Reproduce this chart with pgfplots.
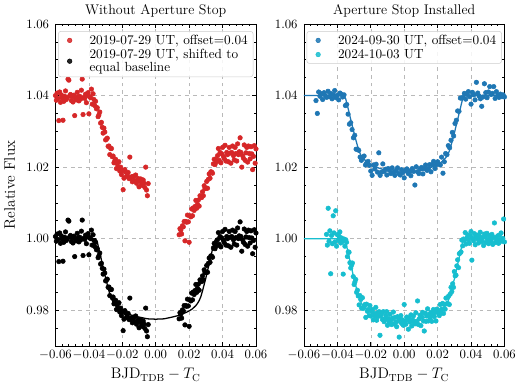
\RequirePackage{fix-cm}
\documentclass[border=0pt]{standalone}
\usepackage{fontspec}
\usepackage{pgfplots}
\usepackage{pgfplotstable}
\pgfplotsset{compat=1.18}

\definecolor{cred}{HTML}{D62728}
\definecolor{cblue}{HTML}{1F77B4}
\definecolor{ccyan}{HTML}{17BECF}

% 2019-07-29: x, offset flux (red), shifted flux (black)
\pgfplotstableread{
x r k
-0.0600 1.0400 1.0006
-0.0595 1.0387 0.9993
-0.0590 1.0407 1.0013
-0.0585 1.0392 0.9998
-0.0580 1.0330 0.9936
-0.0575 1.0410 1.0016
-0.0570 1.0381 0.9987
-0.0565 1.0402 1.0008
-0.0560 1.0393 0.9999
-0.0555 1.0331 0.9937
-0.0550 1.0384 0.9990
-0.0545 1.0398 1.0004
-0.0540 1.0413 1.0019
-0.0535 1.0389 0.9995
-0.0530 1.0394 1.0000
-0.0525 1.0446 1.0052
-0.0520 1.0443 1.0049
-0.0515 1.0399 1.0005
-0.0510 1.0403 1.0009
-0.0505 1.0386 0.9992
-0.0500 1.0397 1.0003
-0.0495 1.0382 0.9988
-0.0490 1.0401 1.0007
-0.0485 1.0344 0.9950
-0.0480 1.0391 0.9997
-0.0475 1.0388 0.9994
-0.0470 1.0409 1.0015
-0.0465 1.0396 1.0002
-0.0460 1.0385 0.9991
-0.0455 1.0398 1.0004
-0.0450 1.0390 0.9996
-0.0445 1.0415 1.0021
-0.0440 1.0446 1.0052
-0.0435 1.0347 0.9953
-0.0430 1.0395 1.0001
-0.0425 1.0392 0.9998
-0.0420 1.0404 1.0010
-0.0415 1.0380 0.9986
-0.0410 1.0400 1.0006
-0.0405 1.0408 1.0014
-0.0400 1.0349 0.9955
-0.0395 1.0397 1.0003
-0.0390 1.0394 1.0000
-0.0385 1.0418 1.0024
-0.0380 1.0376 0.9982
-0.0375 1.0405 1.0011
-0.0370 1.0389 0.9995
-0.0365 1.0372 0.9978
-0.0360 1.0384 0.9990
-0.0355 1.0363 0.9969
-0.0350 1.0366 0.9972
-0.0345 1.0341 0.9947
-0.0340 1.0346 0.9952
-0.0335 1.0354 0.9960
-0.0330 1.0323 0.9929
-0.0325 1.0325 0.9931
-0.0320 1.0311 0.9917
-0.0315 1.0295 0.9901
-0.0310 1.0309 0.9915
-0.0305 1.0298 0.9904
-0.0300 1.0276 0.9882
-0.0295 1.0278 0.9884
-0.0290 1.0281 0.9887
-0.0285 1.0258 0.9864
-0.0280 1.0259 0.9865
-0.0275 1.0235 0.9841
-0.0270 1.0252 0.9858
-0.0265 1.0252 0.9858
-0.0260 1.0229 0.9835
-0.0255 1.0231 0.9837
-0.0250 1.0212 0.9818
-0.0245 1.0217 0.9823
-0.0240 1.0222 0.9828
-0.0235 1.0196 0.9802
-0.0230 1.0209 0.9815
-0.0225 1.0199 0.9805
-0.0220 1.0215 0.9821
-0.0215 1.0189 0.9795
-0.0210 1.0200 0.9806
-0.0205 1.0179 0.9785
-0.0200 1.0190 0.9796
-0.0195 1.0137 0.9743
-0.0190 1.0169 0.9775
-0.0185 1.0193 0.9799
-0.0180 1.0186 0.9792
-0.0175 1.0174 0.9780
-0.0170 1.0176 0.9782
-0.0165 1.0185 0.9791
-0.0160 1.0168 0.9774
-0.0155 1.0228 0.9834
-0.0150 1.0169 0.9775
-0.0145 1.0173 0.9779
-0.0140 1.0159 0.9765
-0.0135 1.0173 0.9779
-0.0130 1.0175 0.9781
-0.0125 1.0162 0.9768
-0.0120 1.0178 0.9784
-0.0115 1.0155 0.9761
-0.0110 1.0163 0.9769
-0.0105 1.0168 0.9774
-0.0100 1.0145 0.9751
-0.0095 1.0162 0.9768
-0.0090 1.0167 0.9773
-0.0085 1.0154 0.9760
-0.0080 1.0149 0.9755
-0.0075 1.0164 0.9770
-0.0070 1.0155 0.9761
-0.0065 1.0143 0.9749
-0.0060 1.0200 0.9806
-0.0055 1.0136 0.9742
-0.0050 1.0120 0.9726
-0.0045 1.0154 0.9760
0.0140 1.0011 0.9776
0.0145 1.0028 0.9793
0.0150 1.0024 0.9789
0.0155 1.0013 0.9778
0.0160 1.0036 0.9801
0.0165 1.0033 0.9798
0.0170 1.0048 0.9813
0.0175 0.9994 0.9759
0.0180 1.0048 0.9813
0.0185 1.0046 0.9811
0.0190 1.0066 0.9831
0.0195 1.0047 0.9812
0.0200 0.9990 0.9755
0.0205 1.0064 0.9829
0.0210 1.0061 0.9826
0.0215 1.0083 0.9848
0.0220 1.0064 0.9829
0.0225 1.0086 0.9851
0.0230 1.0079 0.9844
0.0235 1.0090 0.9855
0.0240 1.0107 0.9872
0.0245 1.0085 0.9850
0.0250 1.0096 0.9861
0.0255 1.0108 0.9873
0.0260 1.0091 0.9856
0.0265 1.0120 0.9885
0.0270 1.0117 0.9882
0.0275 1.0115 0.9880
0.0280 1.0131 0.9896
0.0285 1.0120 0.9885
0.0290 1.0148 0.9913
0.0295 1.0140 0.9905
0.0300 1.0141 0.9906
0.0305 1.0160 0.9925
0.0310 1.0141 0.9906
0.0315 1.0166 0.9931
0.0320 1.0181 0.9946
0.0325 1.0169 0.9934
0.0330 1.0187 0.9952
0.0335 1.0186 0.9951
0.0340 1.0183 0.9948
0.0345 1.0209 0.9974
0.0350 1.0222 0.9987
0.0355 1.0207 0.9972
0.0360 1.0221 0.9986
0.0365 1.0215 0.9980
0.0370 1.0232 0.9997
0.0375 1.0252 1.0017
0.0380 1.0219 0.9984
0.0385 1.0241 1.0006
0.0390 1.0212 0.9977
0.0395 1.0237 1.0002
0.0400 1.0255 1.0020
0.0405 1.0230 0.9995
0.0410 1.0224 0.9989
0.0415 1.0261 1.0026
0.0420 1.0217 0.9982
0.0425 1.0241 1.0006
0.0430 1.0235 1.0000
0.0435 1.0215 0.9980
0.0440 1.0255 1.0020
0.0445 1.0239 1.0004
0.0450 1.0211 0.9976
0.0455 1.0241 1.0006
0.0460 1.0259 1.0024
0.0465 1.0232 0.9997
0.0470 1.0220 0.9985
0.0475 1.0255 1.0020
0.0480 1.0238 1.0003
0.0485 1.0217 0.9982
0.0490 1.0265 1.0030
0.0495 1.0235 1.0000
0.0500 1.0243 1.0008
0.0505 1.0282 1.0047
0.0510 1.0241 1.0006
0.0515 1.0200 0.9965
0.0520 1.0232 0.9997
0.0525 1.0225 0.9990
0.0530 1.0262 1.0027
0.0535 1.0219 0.9984
0.0540 1.0240 1.0005
0.0545 1.0255 1.0020
0.0550 1.0214 0.9979
0.0555 1.0259 1.0024
0.0560 1.0238 1.0003
0.0565 1.0223 0.9988
0.0570 1.0257 1.0022
0.0575 1.0237 1.0002
0.0580 1.0193 0.9958
0.0585 1.0230 0.9995
0.0590 1.0260 1.0025
0.0595 1.0211 0.9976
0.0600 1.0251 1.0016
}\olddata

% 2024-09-30 (offset 0.04)
\pgfplotstableread{
x f
-0.0528 1.0386
-0.0520 1.0350
-0.0512 1.0410
-0.0504 1.0398
-0.0496 1.0405
-0.0488 1.0389
-0.0480 1.0408
-0.0472 1.0400
-0.0464 1.0395
-0.0456 1.0412
-0.0448 1.0397
-0.0440 1.0406
-0.0432 1.0391
-0.0424 1.0402
-0.0416 1.0414
-0.0408 1.0394
-0.0400 1.0401
-0.0392 1.0388
-0.0384 1.0407
-0.0376 1.0404
-0.0368 1.0396
-0.0360 1.0402
-0.0352 1.0372
-0.0344 1.0375
-0.0336 1.0348
-0.0328 1.0320
-0.0320 1.0324
-0.0312 1.0305
-0.0304 1.0282
-0.0296 1.0289
-0.0288 1.0250
-0.0280 1.0250
-0.0272 1.0247
-0.0264 1.0228
-0.0256 1.0219
-0.0248 1.0227
-0.0240 1.0231
-0.0232 1.0206
-0.0224 1.0212
-0.0216 1.0216
-0.0208 1.0205
-0.0200 1.0189
-0.0192 1.0177
-0.0184 1.0206
-0.0176 1.0195
-0.0168 1.0208
-0.0160 1.0186
-0.0152 1.0240
-0.0144 1.0177
-0.0136 1.0186
-0.0128 1.0209
-0.0120 1.0188
-0.0112 1.0194
-0.0104 1.0178
-0.0096 1.0196
-0.0088 1.0191
-0.0080 1.0182
-0.0072 1.0198
-0.0064 1.0186
-0.0056 1.0177
-0.0048 1.0191
-0.0040 1.0198
-0.0032 1.0182
-0.0024 1.0178
-0.0016 1.0193
-0.0008 1.0185
0.0000 1.0170
0.0008 1.0191
0.0016 1.0195
0.0024 1.0182
0.0032 1.0189
0.0040 1.0176
0.0048 1.0196
0.0056 1.0188
0.0064 1.0150
0.0072 1.0201
0.0080 1.0187
0.0088 1.0182
0.0096 1.0195
0.0104 1.0199
0.0112 1.0181
0.0120 1.0196
0.0128 1.0206
0.0136 1.0191
0.0144 1.0196
0.0152 1.0207
0.0160 1.0187
0.0168 1.0207
0.0176 1.0216
0.0184 1.0196
0.0192 1.0207
0.0200 1.0215
0.0208 1.0209
0.0216 1.0206
0.0224 1.0228
0.0232 1.0183
0.0240 1.0215
0.0248 1.0238
0.0256 1.0235
0.0264 1.0260
0.0272 1.0254
0.0280 1.0275
0.0288 1.0297
0.0296 1.0287
0.0304 1.0322
0.0312 1.0331
0.0320 1.0357
0.0328 1.0356
0.0336 1.0393
0.0344 1.0393
0.0352 1.0395
0.0360 1.0406
0.0368 1.0390
0.0376 1.0403
0.0384 1.0411
0.0392 1.0397
0.0400 1.0376
0.0408 1.0409
0.0416 1.0402
0.0424 1.0388
0.0432 1.0437
0.0440 1.0407
0.0448 1.0399
0.0456 1.0391
0.0464 1.0370
0.0472 1.0396
0.0480 1.0433
0.0488 1.0408
0.0496 1.0394
0.0504 1.0410
0.0512 1.0425
0.0520 1.0403
0.0528 1.0406
0.0536 1.0425
0.0544 1.0392
0.0552 1.0411
0.0560 1.0401
0.0568 1.0395
0.0576 1.0404
0.0584 1.0397
0.0592 1.0402
0.0600 1.0396
}\bluedata

% 2024-10-03
\pgfplotstableread{
x f
-0.0465 1.0012
-0.0460 0.9982
-0.0455 1.0085
-0.0450 0.9993
-0.0445 1.0022
-0.0440 0.9902
-0.0435 1.0009
-0.0430 0.9986
-0.0425 1.0064
-0.0420 1.0016
-0.0415 0.9991
-0.0410 1.0078
-0.0405 0.9979
-0.0400 1.0011
-0.0395 0.9995
-0.0390 1.0007
-0.0385 1.0019
-0.0380 0.9988
-0.0375 1.0002
-0.0370 0.9992
-0.0365 0.9901
-0.0360 0.9999
-0.0355 0.9979
-0.0350 0.9997
-0.0345 0.9990
-0.0340 0.9950
-0.0335 0.9963
-0.0330 0.9962
-0.0325 0.9933
-0.0320 0.9918
-0.0315 0.9926
-0.0310 0.9932
-0.0305 0.9894
-0.0300 0.9872
-0.0295 0.9879
-0.0290 0.9886
-0.0285 0.9850
-0.0280 0.9856
-0.0275 0.9840
-0.0270 0.9815
-0.0265 0.9841
-0.0260 0.9830
-0.0255 0.9806
-0.0250 0.9835
-0.0245 0.9805
-0.0240 0.9809
-0.0235 0.9816
-0.0230 0.9780
-0.0225 0.9817
-0.0220 0.9797
-0.0215 0.9802
-0.0210 0.9785
-0.0205 0.9813
-0.0200 0.9784
-0.0195 0.9798
-0.0190 0.9802
-0.0185 0.9773
-0.0180 0.9791
-0.0175 0.9783
-0.0170 0.9808
-0.0165 0.9772
-0.0160 0.9793
-0.0155 0.9783
-0.0150 0.9796
-0.0145 0.9730
-0.0140 0.9785
-0.0135 0.9791
-0.0130 0.9774
-0.0125 0.9796
-0.0120 0.9768
-0.0115 0.9774
-0.0110 0.9785
-0.0105 0.9796
-0.0100 0.9758
-0.0095 0.9777
-0.0090 0.9767
-0.0085 0.9789
-0.0080 0.9772
-0.0075 0.9760
-0.0070 0.9778
-0.0065 0.9795
-0.0060 0.9762
-0.0055 0.9780
-0.0050 0.9766
-0.0045 0.9754
-0.0040 0.9782
-0.0035 0.9770
-0.0030 0.9725
-0.0025 0.9776
-0.0020 0.9785
-0.0015 0.9763
-0.0010 0.9773
-0.0005 0.9758
0.0000 0.9816
0.0005 0.9769
0.0010 0.9761
0.0015 0.9781
0.0020 0.9774
0.0025 0.9747
0.0030 0.9778
0.0035 0.9767
0.0040 0.9787
0.0045 0.9756
0.0050 0.9773
0.0055 0.9784
0.0060 0.9766
0.0065 0.9762
0.0070 0.9793
0.0075 0.9769
0.0080 0.9826
0.0085 0.9760
0.0090 0.9776
0.0095 0.9786
0.0100 0.9757
0.0105 0.9782
0.0110 0.9794
0.0115 0.9770
0.0120 0.9742
0.0125 0.9792
0.0130 0.9769
0.0135 0.9784
0.0140 0.9804
0.0145 0.9770
0.0150 0.9789
0.0155 0.9779
0.0160 0.9794
0.0165 0.9769
0.0170 0.9787
0.0175 0.9802
0.0180 0.9782
0.0185 0.9794
0.0190 0.9770
0.0195 0.9803
0.0200 0.9801
0.0205 0.9792
0.0210 0.9785
0.0215 0.9816
0.0220 0.9794
0.0225 0.9803
0.0230 0.9819
0.0235 0.9791
0.0240 0.9816
0.0245 0.9803
0.0250 0.9834
0.0255 0.9818
0.0260 0.9819
0.0265 0.9839
0.0270 0.9816
0.0275 0.9845
0.0280 0.9864
0.0285 0.9852
0.0290 0.9874
0.0295 0.9864
0.0300 0.9908
0.0305 0.9896
0.0310 0.9898
0.0315 0.9924
0.0320 0.9941
0.0325 0.9919
0.0330 0.9958
0.0335 0.9960
0.0340 0.9963
0.0345 0.9996
0.0350 0.9980
0.0355 0.9999
0.0360 0.9995
0.0365 1.0017
0.0370 0.9985
0.0375 1.0002
0.0380 1.0011
0.0385 0.9997
0.0390 0.9987
0.0395 1.0008
0.0400 1.0020
0.0405 0.9940
0.0410 1.0001
0.0415 0.9994
0.0420 1.0014
0.0425 0.9983
0.0430 1.0005
0.0435 1.0010
0.0440 0.9999
0.0445 0.9988
0.0450 1.0007
0.0455 1.0018
0.0460 0.9996
0.0465 0.9992
0.0470 1.0003
0.0475 0.9981
0.0480 1.0013
0.0485 1.0006
0.0490 0.9990
0.0495 1.0015
0.0500 0.9998
0.0505 0.9986
0.0510 1.0009
0.0515 1.0000
0.0520 0.9994
0.0525 1.0012
0.0530 0.9984
0.0535 1.0004
0.0540 1.0044
0.0545 0.9989
0.0550 1.0002
0.0555 0.9995
0.0560 1.0008
0.0565 0.9987
0.0570 1.0010
0.0575 0.9997
0.0580 1.0016
0.0585 0.9993
0.0590 1.0001
0.0595 1.0055
0.0600 0.9991
}\cyandata

% transit models: black (2019), blue (2024-09-30, offset), cyan (2024-10-03)
\pgfplotstableread{
x k b c
-0.060 1.0000 1.0400 1.0000
-0.036 1.0000 1.0400 1.0000
-0.035 0.9991 1.0391 0.9991
-0.034 0.9971 1.0372 0.9970
-0.033 0.9951 1.0353 0.9949
-0.032 0.9930 1.0333 0.9929
-0.031 0.9910 1.0314 0.9908
-0.030 0.9890 1.0295 0.9887
-0.029 0.9872 1.0277 0.9869
-0.028 0.9854 1.0260 0.9851
-0.027 0.9838 1.0245 0.9834
-0.026 0.9827 1.0234 0.9823
-0.025 0.9819 1.0227 0.9815
-0.024 0.9813 1.0222 0.9809
-0.022 0.9804 1.0213 0.9800
-0.020 0.9798 1.0207 0.9793
-0.015 0.9787 1.0197 0.9783
-0.010 0.9781 1.0190 0.9776
-0.005 0.9776 1.0186 0.9771
0.000 0.9775 1.0185 0.9770
0.005 0.9776 1.0186 0.9771
0.010 0.9781 1.0190 0.9776
0.015 0.9787 1.0197 0.9783
0.020 0.9798 1.0207 0.9793
0.022 0.9804 1.0213 0.9800
0.024 0.9813 1.0222 0.9809
0.025 0.9819 1.0227 0.9815
0.026 0.9827 1.0234 0.9823
0.027 0.9838 1.0245 0.9834
0.028 0.9854 1.0260 0.9851
0.029 0.9872 1.0277 0.9869
0.030 0.9890 1.0295 0.9887
0.031 0.9910 1.0314 0.9908
0.032 0.9930 1.0333 0.9929
0.033 0.9951 1.0353 0.9949
0.034 0.9971 1.0372 0.9970
0.035 0.9991 1.0391 0.9991
0.036 1.0000 1.0400 1.0000
0.060 1.0000 1.0400 1.0000
}\models

\pgfplotsset{
  panel/.style={
    width=157.5pt, height=253pt, scale only axis,
    xmin=-0.06, xmax=0.06, ymin=0.97, ymax=1.06,
    xtick={-0.06,-0.04,-0.02,0,0.02,0.04,0.06},
    ytick={0.98,1.00,1.02,1.04,1.06},
    minor xtick={-0.056,-0.052,-0.048,-0.044,-0.036,-0.032,-0.028,-0.024,-0.016,-0.012,-0.008,-0.004,0.004,0.008,0.012,0.016,0.024,0.028,0.032,0.036,0.044,0.048,0.052,0.056},
    minor ytick={0.975,0.985,0.99,0.995,1.005,1.01,1.015,1.025,1.03,1.035,1.045,1.05,1.055},
    scaled x ticks=false, scaled y ticks=false,
    x tick label style={/pgf/number format/.cd, fixed, fixed zerofill, precision=2, /tikz/.cd},
    y tick label style={/pgf/number format/.cd, fixed, fixed zerofill, precision=2, /tikz/.cd, xshift=-1.5pt},
    tick align=inside,
    major tick length=3pt, minor tick length=1.7pt,
    tick style={black, line width=0.6pt},
    axis line style={line width=0.7pt},
    grid=major,
    grid style={dashed, gray!55, line width=0.4pt},
    tick label style={font=\fontsize{10}{11}\selectfont},
    label style={font=\fontsize{12}{14}\selectfont},
    title style={font=\fontsize{11}{13}\selectfont, yshift=-4pt},
    xlabel={$\mathrm{BJD}_{\mathrm{TDB}}-T_{\mathrm{C}}$},
    legend cell align=left,
    legend style={at={(0.5,0.978)}, anchor=north, draw=gray!40,
      rounded corners=2pt, fill=white, fill opacity=0.85, text opacity=1,
      font=\fontsize{10.4}{9}\selectfont, cells={align=left},
      nodes={inner sep=1.2pt},
      inner xsep=3pt, inner ysep=1.5pt, row sep=0pt},
  },
  dots/.style={only marks, mark=*, mark size=1.8pt, mark options={draw=#1, fill=#1},
    legend image code/.code={\path (0cm,0cm) (0.7cm,0cm); \draw[##1] plot coordinates {(0.2cm,0cm)};}},
}

\begin{document}
\begin{tikzpicture}
\begin{axis}[panel, name=left,
  title={Without Aperture Stop},
  ylabel={Relative Flux}, ylabel shift=2pt,
]
\addplot[dots=cred] table[x=x, y=r] {\olddata};
\addlegendentry{2019-07-29 UT, offset=0.04}
\addplot[dots=black] table[x=x, y=k] {\olddata};
\addlegendentry{2019-07-29 UT, shifted to\\equal baseline}
\addplot[black, line width=1pt, forget plot] table[x=x, y=k] {\models};
\end{axis}

\begin{axis}[panel,
  at={(left.south east)}, anchor=south west, xshift=37.7pt,
  title={Aperture Stop Installed},
]
\addplot[dots=cblue] table[x=x, y=f] {\bluedata};
\addlegendentry{2024-09-30 UT, offset=0.04}
\addplot[dots=ccyan] table[x=x, y=f] {\cyandata};
\addlegendentry{2024-10-03 UT}
\addplot[cblue, line width=1pt, forget plot] table[x=x, y=b] {\models};
\addplot[ccyan, line width=1pt, forget plot] table[x=x, y=c] {\models};
\end{axis}
\end{tikzpicture}
\end{document}
